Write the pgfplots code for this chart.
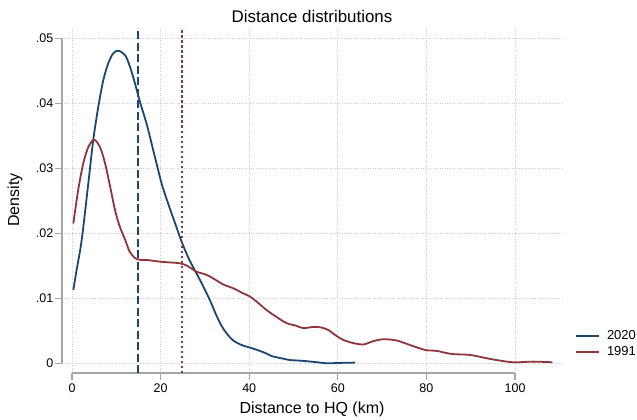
\documentclass[border=0pt]{standalone}
\usepackage{fontspec}
\setmainfont{Liberation Sans}
\usepackage{pgfplots}
\pgfplotsset{compat=1.18}
\definecolor{navy}{RGB}{26,71,111}
\definecolor{maroon}{RGB}{144,53,59}
\definecolor{axgray}{RGB}{165,165,165}
\definecolor{gridgray}{RGB}{205,205,205}
\begin{document}
\begin{tikzpicture}[x=1bp,y=1bp]
\path[use as bounding box] (0,0) rectangle (637,419);
\begin{axis}[
  at={(62bp,46bp)}, anchor=south west,
  width=500bp, height=345bp, scale only axis,
  xmin=-2.26, xmax=110.6, ymin=-0.0015, ymax=0.0516,
  clip=false,
  axis line style={draw=none},
  xtick={0,20,40,60,80,100},
  ytick={0,0.01,0.02,0.03,0.04,0.05},
  yticklabels={0,.01,.02,.03,.04,.05},
  scaled y ticks=false,
  /pgf/number format/assume math mode=true,
  xtick pos=left, ytick pos=left,
  tick align=outside,
  major tick length=7bp,
  tick style={axgray, line width=1.2bp},
  grid=major,
  grid style={gridgray, dotted, line width=0.9bp},
  ticklabel style={font=\fontsize{12.5bp}{15bp}\selectfont},
  yticklabel style={inner sep=1.5bp},
  title={Distance distributions},
  title style={at={(axis description cs:0.5,1.0175)}, anchor=center, font=\fontsize{16.9bp}{20bp}\selectfont},
  xlabel={Distance to HQ (km)},
  xlabel style={at={(axis description cs:0.5,-0.104)}, anchor=center, font=\fontsize{16bp}{19bp}\selectfont},
  ylabel={Density},
  ylabel style={at={(axis description cs:-0.094,0.501)}, anchor=center, rotate=0, font=\fontsize{16bp}{19bp}\selectfont},
  legend style={at={(axis description cs:1.026,0.085)}, anchor=west, draw=none, fill=none, inner sep=0pt,
    font=\fontsize{13bp}{15.5bp}\selectfont, row sep=3.5bp,
    nodes={inner sep=1bp}},
  legend cell align=left,
  legend image code/.code={\draw[#1, line width=1.8bp] (0bp,0bp) -- (23bp,0bp);},
  /tikz/every odd column/.append style={column sep=6bp},
]
\draw[axgray, line width=1.2bp] (axis cs:-2.26,0) -- (axis cs:-2.26,0.05);
\draw[axgray, line width=1.2bp] (axis cs:0,-0.0015) -- (axis cs:100,-0.0015);

\addplot[navy, line width=1.8bp, smooth, tension=0.5] coordinates {
(0.3,0.0113) (1.0,0.0142) (2.19,0.0190) (3.68,0.0277) (4.8,0.0344) (5.94,0.0395)
(7.07,0.0436) (8.2,0.0462) (9.3,0.0477) (10.45,0.0481) (12.0,0.0474) (13.1,0.0456)
(14.2,0.0431) (15.35,0.0402) (16.9,0.0367) (18.4,0.0326) (19.9,0.0285) (20.6,0.0268)
(22.1,0.0238) (23.6,0.0209) (24.8,0.0186) (26.5,0.0159) (28.9,0.0128) (31.2,0.0096)
(32.5,0.0075) (33.8,0.0057) (35.0,0.0045) (36.4,0.0035) (38.3,0.0028) (40.2,0.0024)
(42.0,0.0020) (43.9,0.0015) (45.1,0.0011) (47.0,0.0008) (49.2,0.0005) (51.5,0.0004)
(54.0,0.00025) (57.5,0.0000) (60.0,0.00005) (63.9,0.0001)
};
\addlegendentry{2020}
\addplot[maroon, line width=1.8bp, smooth, tension=0.5] coordinates {
(0.3,0.0215) (1.4,0.0267) (2.55,0.0308) (3.7,0.0333) (4.97,0.0344) (6.3,0.0333)
(7.45,0.0308) (8.6,0.0272) (9.7,0.0236) (10.8,0.0210) (12.0,0.0190) (13.0,0.0172)
(14.2,0.0162) (15.5,0.0159) (16.9,0.0159) (19.9,0.01563) (22.5,0.0155) (24.4,0.01538)
(26.0,0.0150) (28.1,0.0141) (30.4,0.0136) (32.5,0.0128) (34.2,0.0121) (36.4,0.01154)
(38.5,0.0108) (40.2,0.01025) (42.0,0.0093) (43.9,0.0082) (46.2,0.0071) (48.5,0.00615)
(50.5,0.0058) (52.2,0.0054) (54.5,0.0056) (56.3,0.0055) (57.9,0.0051) (59.5,0.0043)
(61.2,0.0036) (63.5,0.0031) (65.8,0.0029) (68.0,0.0034) (70.3,0.0037) (73.3,0.0035)
(76.3,0.0028) (78.5,0.0023) (80.0,0.0020) (82.3,0.0019) (85.7,0.00143) (89.8,0.00128)
(93.6,0.00077) (95.8,0.0005) (99.6,0.00015) (104.1,0.00025) (108.4,0.00015)
};
\addlegendentry{1991}
\addplot[navy, line width=2bp, dash pattern=on 8bp off 3.5bp, forget plot] coordinates {(14.8,-0.0015) (14.8,0.0516)};
\addplot[maroon, line width=2.2bp, dash pattern=on 2.5bp off 2.5bp, forget plot] coordinates {(24.75,-0.0015) (24.75,0.0516)};
\end{axis}
\end{tikzpicture}
\end{document}
